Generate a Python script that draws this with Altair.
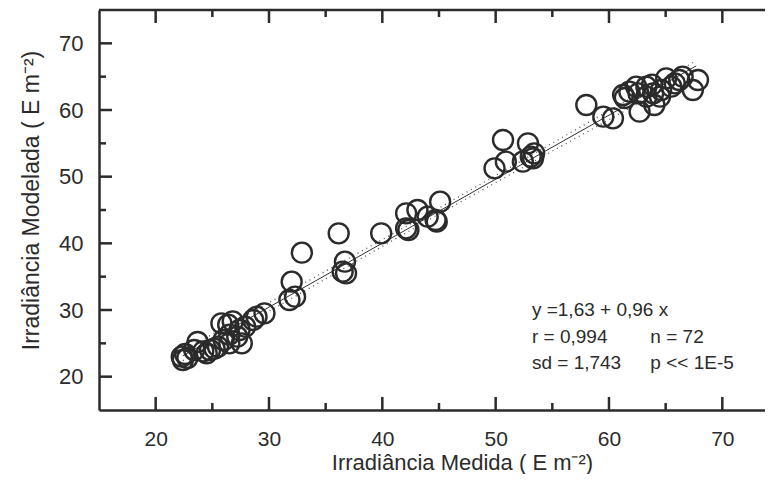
import altair as alt
import pandas as pd

measured = [22.4, 22.3, 22.6, 22.8, 23.7, 23.4, 24.5, 24.2, 24.8, 25.5,
            25.8, 26.4, 26.8, 26.5, 26.5, 27.4, 27.6, 27.9, 28.6, 29.6,
            26.0, 27.2, 25.2, 28.9,
            32.0, 31.8, 32.3, 32.9, 36.15, 36.7, 36.5, 36.8, 39.9, 42.1,
            42.1, 43.1, 44.0, 44.8, 45.1, 42.3, 44.7,
            50.65, 49.9, 50.9, 52.85, 52.4, 53.1, 53.4, 53.3,
            58.0, 59.5, 60.35, 61.25, 61.8, 62.4, 62.7, 63.3, 64.0, 65.05,
            66.5, 67.85, 67.4, 63.3, 63.9, 64.5, 65.5, 66.2, 64.6, 62.6,
            65.8, 63.8, 61.4]
modeled = [22.5, 23.0, 23.4, 22.8, 25.2, 24.0, 23.5, 23.8, 24.0, 24.5,
           28.0, 27.8, 28.3, 26.3, 25.0, 27.0, 25.0, 27.5, 28.5, 29.5,
           25.5, 26.0, 24.2, 29.0,
           34.25, 31.5, 32.0, 38.6, 41.5, 37.25, 35.75, 35.5, 41.5, 44.5,
           42.25, 45.0, 44.0, 43.25, 46.25, 42.0, 43.5,
           55.5, 51.25, 52.25, 55.0, 52.25, 53.0, 53.5, 52.75,
           60.75, 59.0, 58.75, 62.25, 62.75, 63.5, 59.75, 62.0, 60.75, 64.75,
           65.0, 64.5, 63.0, 63.5, 62.5, 62.0, 63.5, 64.5, 63.0, 62.5,
           64.0, 63.8, 61.8]

# Regression line (solid) and band (dotted)
fit_x = [22.4, 67.7]
fit_y = [23.13, 66.62]
band_x = [22.4, 45.0, 67.7]
upper_y = [23.9, 45.3, 67.4]
lower_y = [22.4, 44.4, 65.8]

x_ticks_major = [20, 30, 40, 50, 60, 70]
x_ticks_minor = [25, 35, 45, 55, 65]
y_ticks_major = [20, 30, 40, 50, 60, 70]
y_ticks_minor = [25, 35, 45, 55, 65]

stats_left = ["y =1,63 + 0,96 x", "r = 0,994", "sd = 1,743"]
stats_right = ["", "n = 72", "p << 1E-5"]
stats_y = [30, 26, 22]
stats_x_left = 53.2
stats_x_right = 63.65

W, H = 666, 400
XDOM = [15, 15 + W / 11.333]
YDOM = [15, 75]
FONT = "Liberation Sans"
INK = "#2b2b2b"

xs = alt.Scale(domain=XDOM, nice=False, zero=False)
ys = alt.Scale(domain=YDOM, nice=False, zero=False)

xaxis = alt.Axis(
    title="Irradiância Medida ( E m⁻²)", values=x_ticks_major, format="d",
    ticks=False, tickSize=0, labelPadding=18, labelFontSize=21,
    labelFont=FONT, labelColor=INK, labelBaseline="top",
    domain=True, domainColor=INK, domainWidth=2.5, grid=False,
    titleFont=FONT, titleFontSize=22, titleFontWeight="normal",
    titleColor=INK, titleX=363, titleY=59.5, titleBaseline="alphabetic",
    titleAlign="center")
yaxis = alt.Axis(
    title="Irradiância Modelada ( E m⁻²)", values=y_ticks_major, format="d",
    ticks=False, tickSize=0, labelPadding=16, labelFontSize=22,
    labelFont=FONT, labelColor=INK,
    domain=True, domainColor=INK, domainWidth=2.5, grid=False,
    titleFont=FONT, titleFontSize=23, titleFontWeight="normal",
    titleColor=INK, titleX=-61, titleY=190, titleBaseline="alphabetic",
    titleAlign="center", titleAngle=270)

def X(field=None, datum=None):
    if datum is not None:
        return alt.X(datum=datum, scale=xs, axis=xaxis)
    return alt.X(field, type="quantitative", scale=xs, axis=xaxis)

def Y(field=None, datum=None):
    if datum is not None:
        return alt.Y(datum=datum, scale=ys, axis=yaxis)
    return alt.Y(field, type="quantitative", scale=ys, axis=yaxis)

pts = pd.DataFrame({"m": measured, "o": modeled})
points = alt.Chart(pts).mark_point(
    shape="circle", filled=False, size=400, strokeWidth=2.4, color=INK, opacity=1
).encode(x=X("m"), y=Y("o"))

fit_df = pd.DataFrame({"m": fit_x, "o": fit_y})
fit = alt.Chart(fit_df).mark_line(color="#333333", strokeWidth=1).encode(
    x=X("m"), y=Y("o"))

band_df = pd.DataFrame({
    "m": band_x + band_x,
    "o": upper_y + lower_y,
    "s": ["upper"] * len(band_x) + ["lower"] * len(band_x),
})
band = alt.Chart(band_df).mark_line(
    color="#555555", strokeWidth=1.3, strokeDash=[1, 4]
).encode(x=X("m"), y=Y("o"), detail="s:N")

def vticks(values, y0, y1):
    return alt.Chart(pd.DataFrame({"m": values})).mark_rule(
        color=INK, strokeWidth=2.5).encode(
        x=X("m"), y=alt.value(y0), y2=alt.value(y1))

def hticks(values, x0, x1):
    return alt.Chart(pd.DataFrame({"o": values})).mark_rule(
        color=INK, strokeWidth=2.5).encode(
        y=Y("o"), x=alt.value(x0), x2=alt.value(x1))

ticks = [
    vticks(x_ticks_major, H, H - 13), vticks(x_ticks_minor, H, H - 7),
    vticks(x_ticks_major, 0, 13), vticks(x_ticks_minor, 0, 7),
    hticks(y_ticks_major, 0, 13), hticks(y_ticks_minor, 0, 7),
]

top_line = alt.Chart(pd.DataFrame({"v": [0]})).mark_rule(
    color=INK, strokeWidth=2.5).encode(
    x=alt.value(0), x2=alt.value(W), y=alt.value(0))

texts = []
for i, t in enumerate(stats_left):
    texts.append(alt.Chart(pd.DataFrame({"t": [t]})).mark_text(
        align="left", baseline="middle", font=FONT, fontSize=19, color=INK
    ).encode(x=X(datum=stats_x_left), y=Y(datum=stats_y[i]), text="t:N"))
for i, t in enumerate(stats_right):
    if t:
        texts.append(alt.Chart(pd.DataFrame({"t": [t]})).mark_text(
            align="left", baseline="middle", font=FONT, fontSize=19, color=INK
        ).encode(x=X(datum=stats_x_right), y=Y(datum=stats_y[i]), text="t:N"))

chart = alt.layer(band, fit, points, *ticks, top_line, *texts).properties(
    width=W, height=H,
    autosize=alt.AutoSizeParams(type="none"),
    padding={"left": 91, "top": 2, "right": 0, "bottom": 64},
).configure_view(stroke=None).configure(background="white")

chart.save("out.html", embed_options={"renderer": "svg", "actions": False})
